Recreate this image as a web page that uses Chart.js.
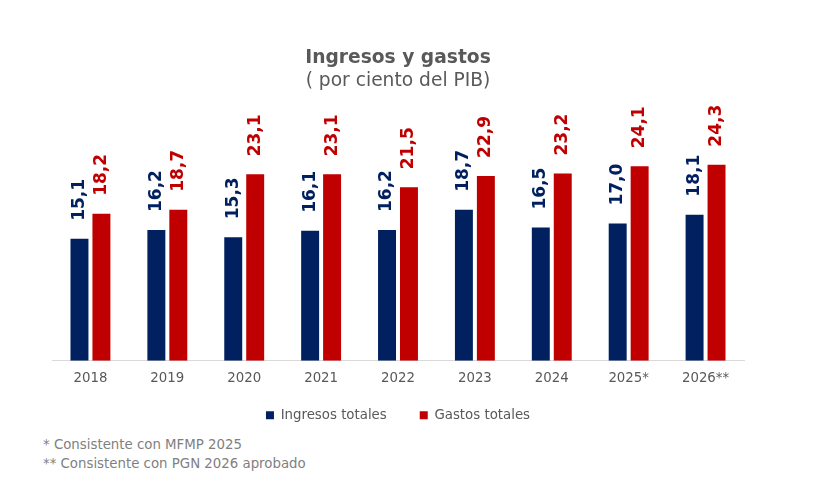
<!DOCTYPE html>
<html>
<head>
<meta charset="utf-8">
<script src="https://cdn.jsdelivr.net/npm/chart.js@4.4.1/dist/chart.umd.min.js"></script>
<style>
    body { margin: 0; background: #fff; font-family: "DejaVu Sans", Verdana, sans-serif; }
    #wrap { position: relative; width: 822px; height: 501px; }
    #chart-box { position: absolute; left: 0; top: 0; width: 822px; height: 432px; }
    .note { position: absolute; left: 43px; font-size: 13.33px; color: #7f7f7f; }
</style>
</head>
<body>
<div id="wrap">
    <div id="chart-box"><canvas id="budgetChart"></canvas></div>
    <div class="note" style="top: 437px;">* Consistente con MFMP 2025</div>
    <div class="note" style="top: 456px;">** Consistente con PGN 2026 aprobado</div>
</div>
<script>
// Data
const years = ['2018', '2019', '2020', '2021', '2022', '2023', '2024', '2025*', '2026**'];
const ingresos = [15.1, 16.2, 15.3, 16.1, 16.2, 18.7, 16.5, 17.0, 18.1];
const gastos = [18.2, 18.7, 23.1, 23.1, 21.5, 22.9, 23.2, 24.1, 24.3];

const NAVY = '#002060';
const RED = '#C00000';
const GREY = '#595959';
const LEGEND_PAD = 33;
const EXTRA = LEGEND_PAD - 12;

// Vertical value labels above each bar
const barLabels = {
    id: 'barLabels',
    afterDatasetsDraw(chart) {
        const ctx = chart.ctx;
        ctx.save();
        ctx.font = 'bold 17px "DejaVu Sans", Verdana, sans-serif';
        ctx.textAlign = 'left';
        ctx.textBaseline = 'middle';
        chart.data.datasets.forEach((ds, i) => {
            const meta = chart.getDatasetMeta(i);
            meta.data.forEach((bar, j) => {
                const txt = ds.data[j].toFixed(1).replace('.', ',');
                ctx.save();
                ctx.translate(bar.x, bar.y - 18);
                ctx.rotate(-Math.PI / 2);
                ctx.fillStyle = ds.backgroundColor;
                ctx.fillText(txt, 0, 0);
                ctx.restore();
            });
        });
        ctx.restore();
    }
};

// the wide legend padding is only wanted horizontally: give the x axis its room back
const axisRoom = {
    id: 'axisRoom',
    afterLayout(chart) {
        const x = chart.scales.x;
        x.bottom += EXTRA;
        x.height += EXTRA;
    }
};

Chart.defaults.font.family = '"DejaVu Sans", Verdana, sans-serif';

new Chart(document.getElementById('budgetChart'), {
    type: 'bar',
    data: {
        labels: years,
        datasets: [
            { label: 'Ingresos totales', data: ingresos, backgroundColor: NAVY },
            { label: 'Gastos totales', data: gastos, backgroundColor: RED }
        ]
    },
    options: {
        responsive: true,
        maintainAspectRatio: false,
        animation: false,
        categoryPercentage: 0.571,
        barPercentage: 0.818,
        layout: { padding: { left: 52, right: 78 } },
        plugins: {
            title: {
                display: true,
                text: 'Ingresos y gastos',
                color: GREY,
                font: { size: 18.67, weight: 'bold' },
                padding: { top: 47, bottom: 0 }
            },
            subtitle: {
                display: true,
                text: '( por ciento del PIB)',
                color: GREY,
                font: { size: 18.67 },
                padding: { top: 1, bottom: 18.6 }
            },
            legend: {
                position: 'bottom',
                labels: {
                    color: GREY,
                    font: { size: 13.33 },
                    boxWidth: 8,
                    boxHeight: 8,
                    padding: LEGEND_PAD
                }
            },
            tooltip: { enabled: false }
        },
        scales: {
            x: {
                grid: { display: false, drawTicks: false },
                border: { color: '#d9d9d9' },
                ticks: { color: GREY, font: { size: 13.33 }, padding: 10 },
                afterFit(scale) { scale.height -= EXTRA; }
            },
            y: {
                display: false,
                min: 0,
                max: 30.9
            }
        }
    },
    plugins: [barLabels, axisRoom]
});
</script>
</body>
</html>
